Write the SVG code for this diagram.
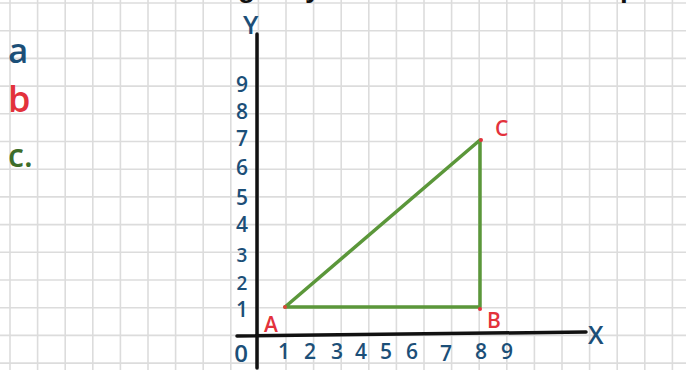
<svg xmlns="http://www.w3.org/2000/svg" width="686" height="370" viewBox="0 0 686 370">
<style>
.grid line{stroke:#dcdcdc;stroke-width:1.6}
.axis{stroke:#111;stroke-width:3.5;stroke-linecap:round;fill:none}
.tri{stroke:#5b973a;stroke-width:3.5;fill:none;stroke-linejoin:round}
.blue{fill:#1c4f78;font-family:"Open Sans","DejaVu Sans",sans-serif;font-weight:600}
.red{fill:#e3323c;font-family:"Open Sans","DejaVu Sans",sans-serif;font-weight:600}
.green{fill:#3d6d2a;font-family:"Open Sans","DejaVu Sans",sans-serif;font-weight:600}
.num{font-size:21px;text-anchor:middle}
.top{fill:#111;font-family:"Liberation Sans",sans-serif;font-size:28px;font-weight:bold}
</style>
<rect width="686" height="370" fill="#ffffff"/>
<g id="grid" class="grid">
<line x1="10" y1="0" x2="10" y2="370"/><line x1="37.6" y1="0" x2="37.6" y2="370"/><line x1="65.2" y1="0" x2="65.2" y2="370"/><line x1="92.8" y1="0" x2="92.8" y2="370"/><line x1="120.4" y1="0" x2="120.4" y2="370"/><line x1="148" y1="0" x2="148" y2="370"/><line x1="175.6" y1="0" x2="175.6" y2="370"/><line x1="203.2" y1="0" x2="203.2" y2="370"/><line x1="230.8" y1="0" x2="230.8" y2="370"/><line x1="258.4" y1="0" x2="258.4" y2="370"/><line x1="286" y1="0" x2="286" y2="370"/><line x1="313.6" y1="0" x2="313.6" y2="370"/><line x1="341.2" y1="0" x2="341.2" y2="370"/><line x1="368.8" y1="0" x2="368.8" y2="370"/><line x1="396.4" y1="0" x2="396.4" y2="370"/><line x1="424" y1="0" x2="424" y2="370"/><line x1="451.6" y1="0" x2="451.6" y2="370"/><line x1="479.2" y1="0" x2="479.2" y2="370"/><line x1="506.8" y1="0" x2="506.8" y2="370"/><line x1="534.4" y1="0" x2="534.4" y2="370"/><line x1="562" y1="0" x2="562" y2="370"/><line x1="589.6" y1="0" x2="589.6" y2="370"/><line x1="617.2" y1="0" x2="617.2" y2="370"/><line x1="644.8" y1="0" x2="644.8" y2="370"/><line x1="672.4" y1="0" x2="672.4" y2="370"/>
<line x1="0" y1="3" x2="686" y2="3"/><line x1="0" y1="30.7" x2="686" y2="30.7"/><line x1="0" y1="58.4" x2="686" y2="58.4"/><line x1="0" y1="86.1" x2="686" y2="86.1"/><line x1="0" y1="113.8" x2="686" y2="113.8"/><line x1="0" y1="141.5" x2="686" y2="141.5"/><line x1="0" y1="169.2" x2="686" y2="169.2"/><line x1="0" y1="196.9" x2="686" y2="196.9"/><line x1="0" y1="224.6" x2="686" y2="224.6"/><line x1="0" y1="252.3" x2="686" y2="252.3"/><line x1="0" y1="280" x2="686" y2="280"/><line x1="0" y1="307.7" x2="686" y2="307.7"/><line x1="0" y1="335.4" x2="686" y2="335.4"/><line x1="0" y1="363.1" x2="686" y2="363.1"/>
</g>
<g id="title-cut">
<text class="top" x="238" y="-3">g</text>
<text class="top" x="305" y="-3">y</text>
<text class="top" x="620" y="-3">p</text>
</g>
<g id="legend">
<text class="blue" x="8" y="63" font-size="35">a</text>
<text class="red" x="8" y="112" font-size="36">b</text>
<text class="green" x="8" y="167" font-size="32">c.</text>
</g>
<g id="axes">
<path class="axis" d="M257 34 L257 368"/>
<path class="axis" d="M237 336 L586 332"/>
<text class="blue" x="243" y="34" font-size="26">Y</text>
<text class="blue" x="588" y="344" font-size="25">X</text>
</g>
<g id="y-labels" class="blue num">
<text x="242" y="92">9</text>
<text x="242" y="119">8</text>
<text x="242" y="146">7</text>
<text x="242" y="175">6</text>
<text x="242" y="205">5</text>
<text x="242" y="232">4</text>
<text x="242" y="262" font-size="19">3</text>
<text x="242" y="290" font-size="19">2</text>
<text x="242" y="317">1</text>
<text x="241" y="362" font-size="24">0</text>
</g>
<g id="x-labels" class="blue num">
<text x="284" y="359">1</text>
<text x="310" y="359">2</text>
<text x="337" y="359">3</text>
<text x="361" y="359">4</text>
<text x="386" y="359">5</text>
<text x="412" y="359">6</text>
<text x="446" y="361">7</text>
<text x="481" y="359">8</text>
<text x="507" y="359">9</text>
</g>
<g id="triangle">
<path class="tri" d="M285 307 L480 307 L480 140 Z"/>
<circle cx="285" cy="307" r="2" fill="#d9473a"/>
<circle cx="480" cy="309" r="2" fill="#e3323c"/>
<circle cx="481" cy="140" r="2" fill="#e3323c"/>
</g>
<g id="point-labels" class="red" font-size="21">
<text x="264" y="332">A</text>
<text x="487" y="328">B</text>
<text x="495" y="136">C</text>
</g>
</svg>
